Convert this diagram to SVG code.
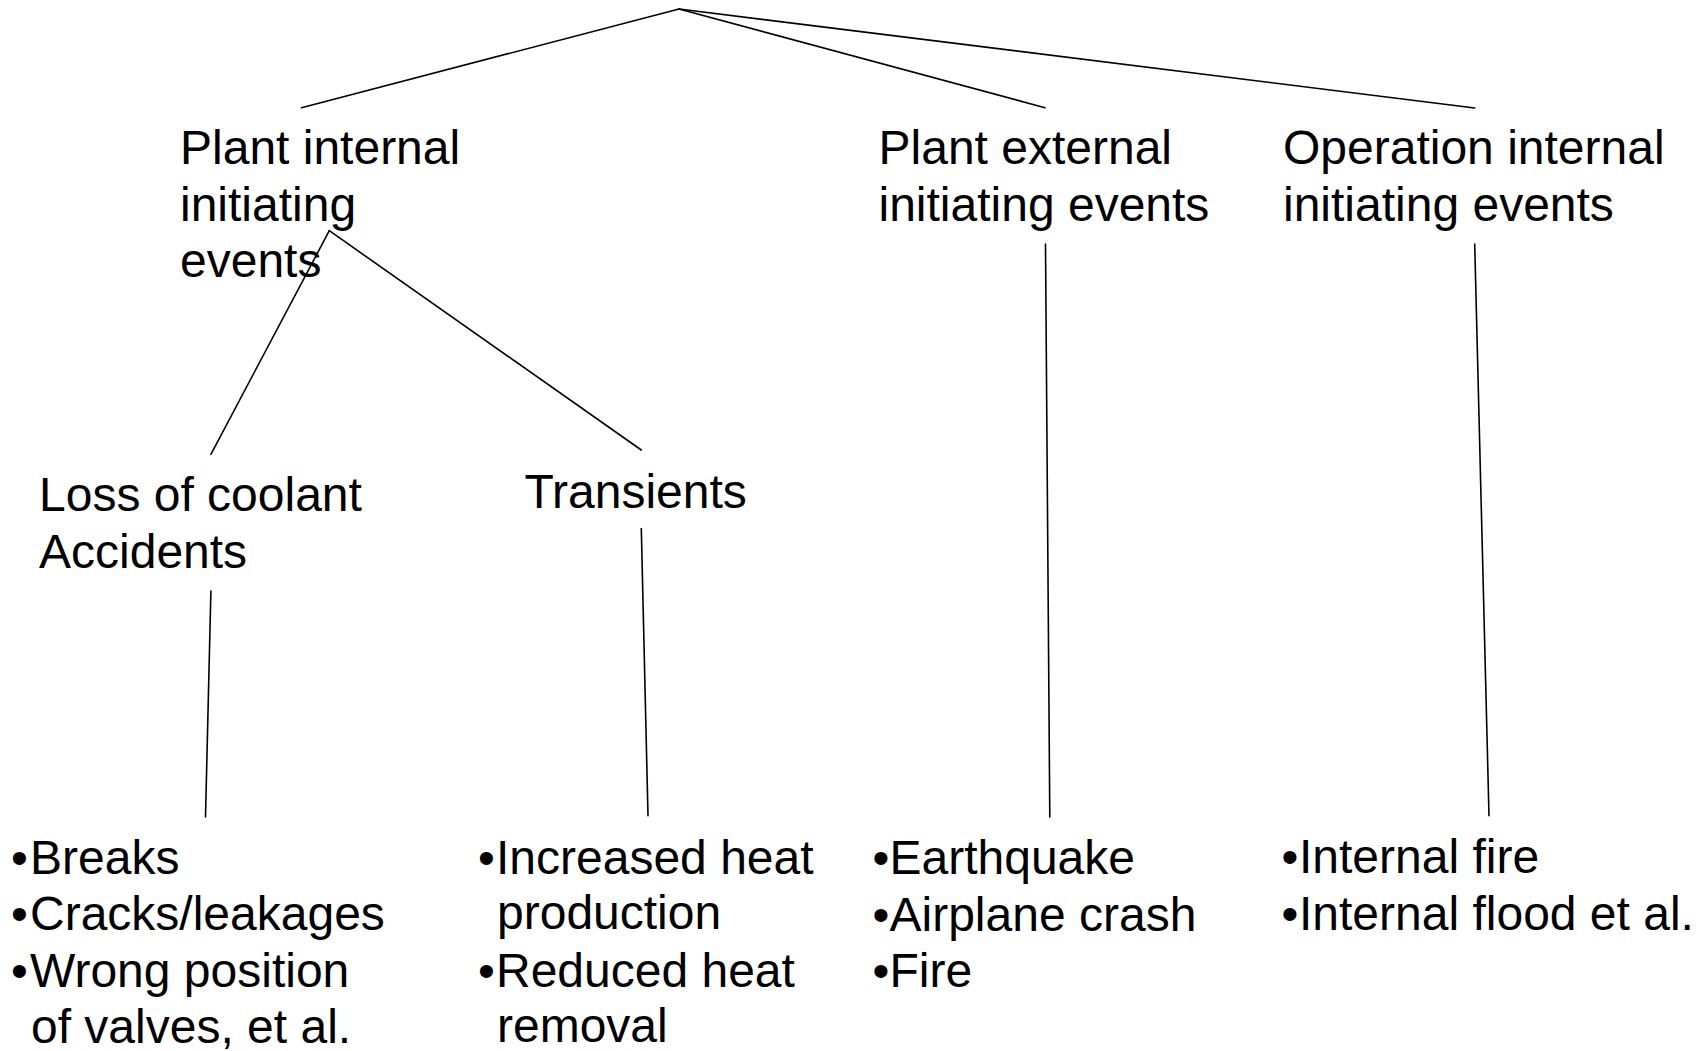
<svg xmlns="http://www.w3.org/2000/svg" width="1704" height="1051" viewBox="0 0 1704 1051">
  <style>
    text { font-family: "Liberation Sans", Arial, sans-serif; font-size: 48px; fill: #000; }
    .link { stroke: #000; stroke-width: 1.6; fill: none; stroke-linecap: round; }
  </style>
  <rect width="1704" height="1051" fill="#fff"/>

  <!-- connectors -->
  <g id="connectors">
    <line class="link" x1="679" y1="9" x2="301.5" y2="107.7"/>
    <line class="link" x1="679" y1="9" x2="1045" y2="107.7"/>
    <line class="link" x1="679" y1="9" x2="1474.8" y2="108"/>
    <line class="link" x1="329.3" y1="230.7" x2="210.9" y2="454.3"/>
    <line class="link" x1="329.3" y1="230.7" x2="641.3" y2="450"/>
    <line class="link" x1="210.9" y1="591" x2="205.5" y2="817"/>
    <line class="link" x1="641.3" y1="528.5" x2="648" y2="815.7"/>
    <line class="link" x1="1045.5" y1="244" x2="1049.8" y2="817"/>
    <line class="link" x1="1474.7" y1="244" x2="1489" y2="815.7"/>
  </g>

  <!-- category nodes -->
  <g id="plant-internal">
    <text x="180" y="163.5">Plant internal</text>
    <text x="180" y="220.5">initiating</text>
    <text x="180" y="277">events</text>
  </g>
  <g id="plant-external">
    <text x="878.5" y="163.5">Plant external</text>
    <text x="878.5" y="220.5">initiating events</text>
  </g>
  <g id="operation-internal">
    <text x="1283" y="163.5">Operation internal</text>
    <text x="1283" y="220.5">initiating events</text>
  </g>
  <g id="loca">
    <text x="39" y="510.7">Loss of coolant</text>
    <text x="39" y="568">Accidents</text>
  </g>
  <g id="transients">
    <text x="524.5" y="507.5">Transients</text>
  </g>

  <!-- leaf lists -->
  <g id="loca-items">
    <text x="11" y="873.5">•</text><text x="30" y="873.5">Breaks</text>
    <text x="11" y="930">•</text><text x="30" y="930">Cracks/leakages</text>
    <text x="11" y="986.5">•</text><text x="30" y="986.5">Wrong position</text>
    <text x="31" y="1043">of valves, et al.</text>
  </g>
  <g id="transient-items">
    <text x="478" y="873.5">•</text><text x="496" y="873.5">Increased heat</text>
    <text x="497" y="929">production</text>
    <text x="478" y="986.5">•</text><text x="496" y="986.5">Reduced heat</text>
    <text x="497" y="1042">removal</text>
  </g>
  <g id="external-items">
    <text x="872.5" y="873.5">•</text><text x="889.5" y="873.5">Earthquake</text>
    <text x="872.5" y="931">•</text><text x="889.5" y="931">Airplane crash</text>
    <text x="872.5" y="986.5">•</text><text x="889.5" y="986.5">Fire</text>
  </g>
  <g id="operation-items">
    <text x="1281.5" y="873">•</text><text x="1299" y="873">Internal fire</text>
    <text x="1281.5" y="929.5">•</text><text x="1299" y="929.5">Internal flood et al.</text>
  </g>
</svg>
